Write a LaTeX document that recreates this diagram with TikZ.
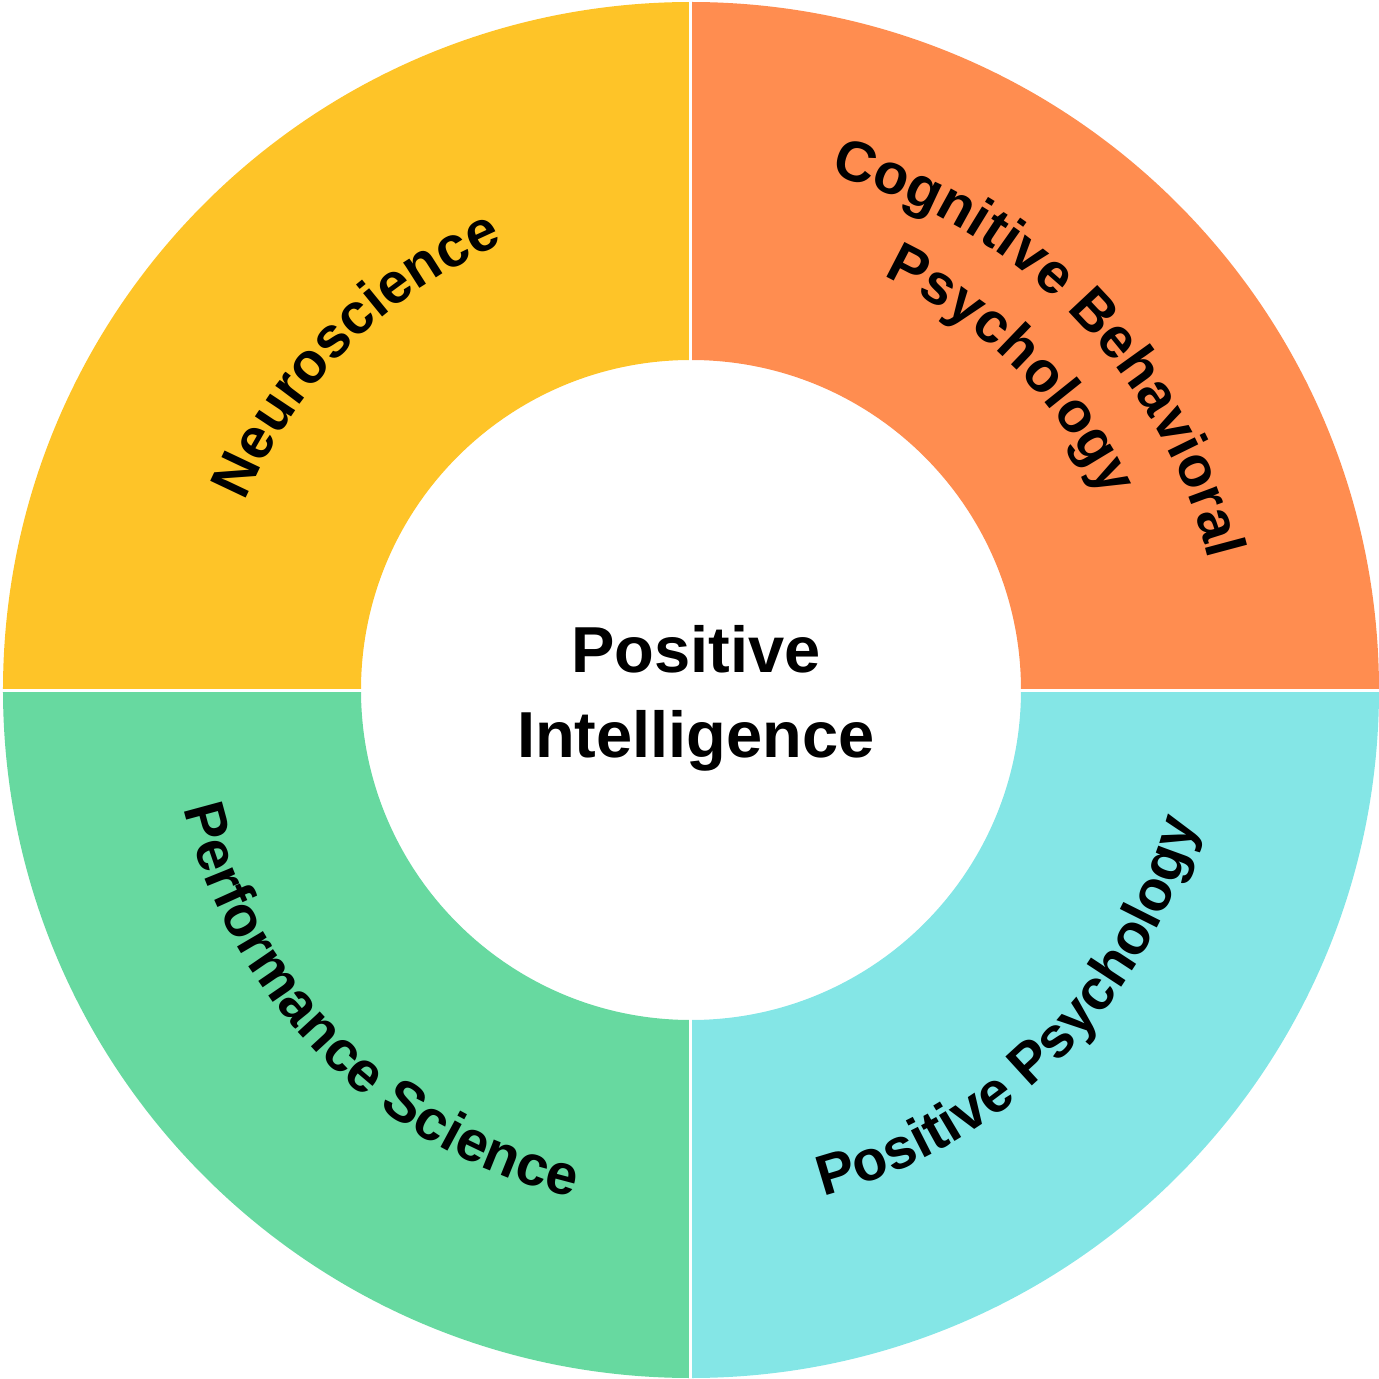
\documentclass[tikz,border=0pt]{standalone}
\usepackage{fontspec}
\setmainfont{Liberation Sans}
\usetikzlibrary{decorations.text}
\definecolor{qyellow}{RGB}{254,196,40}
\definecolor{qorange}{RGB}{255,141,80}
\definecolor{qgreen}{RGB}{103,217,160}
\definecolor{qcyan}{RGB}{132,230,230}
\newcommand\arcfnt{\fontsize{57}{60}\selectfont\bfseries}
\newcommand\midfnt{\fontsize{65}{70}\selectfont\bfseries}
\tikzset{
  arclabel/.style={decorate, decoration={text along path, text align=center, text={#1}}},
  sep/.style={white, line width=3pt},
  midtext/.style={anchor=base, font=\midfnt, inner sep=0pt}
}
\begin{document}
\begin{tikzpicture}
\useasboundingbox (-691pt,-689pt) rectangle (688pt,690pt);
% sectors
\fill[qyellow] (90:688pt) arc[start angle=90,end angle=180,radius=688pt] -- (180:330pt) arc[start angle=180,end angle=90,radius=330pt] -- cycle;
\fill[qorange] (0:688pt) arc[start angle=0,end angle=90,radius=688pt] -- (90:330pt) arc[start angle=90,end angle=0,radius=330pt] -- cycle;
\fill[qgreen] (180:688pt) arc[start angle=180,end angle=270,radius=688pt] -- (270:330pt) arc[start angle=270,end angle=180,radius=330pt] -- cycle;
\fill[qcyan] (270:688pt) arc[start angle=270,end angle=360,radius=688pt] -- (0:330pt) arc[start angle=360,end angle=270,radius=330pt] -- cycle;
% separators
\draw[sep] (0pt,325pt) -- (0pt,692pt);
\draw[sep] (0pt,-325pt) -- (0pt,-692pt);
\draw[sep] (325pt,0pt) -- (692pt,0pt);
\draw[sep] (-325pt,0pt) -- (-692pt,0pt);
% curved labels
\path[arclabel={|\arcfnt|Neuroscience}] (180:484pt) arc[start angle=180,end angle=90,radius=484pt];
\path[arclabel={|\arcfnt|Cognitive Behavioral}] (90:534pt) arc[start angle=90,end angle=-1,radius=534pt];
\path[arclabel={|\arcfnt|Psychology}] (90:456pt) arc[start angle=90,end angle=0,radius=456pt];
\path[arclabel={|\arcfnt|Performance Science}] (180:521pt) arc[start angle=180,end angle=270,radius=521pt];
\path[arclabel={|\arcfnt|Positive Psychology}] (270:523pt) arc[start angle=270,end angle=360,radius=523pt];
% centre
\node[midtext] (pos) at (5pt,18pt) {Positive};
\node[midtext] (intel) at (5pt,-67pt) {Intelligence};
\end{tikzpicture}
\end{document}
